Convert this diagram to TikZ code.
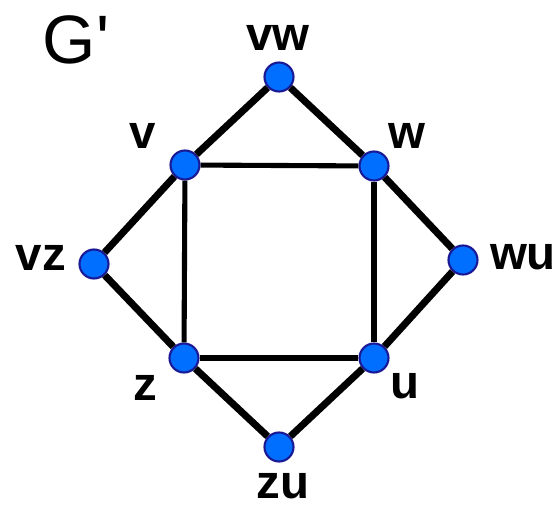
\documentclass[tikz,border=0pt]{standalone}
\usepackage{fontspec}
\setmainfont{Liberation Sans}
\usepackage{xcolor}
\usepackage{tikz}
\usetikzlibrary{positioning,calc}
\definecolor{vertexblue}{RGB}{0,110,255}
\definecolor{vertexrim}{RGB}{25,25,150}

\begin{document}
\begin{tikzpicture}[
    x=0.02cm, y=-0.02cm,
    vertex/.style={circle, draw=vertexrim, fill=vertexblue, line width=1.2pt, minimum size=16.5pt, inner sep=0pt},
    lab/.style={font=\fontsize{27}{30}\selectfont\bfseries, inner sep=0pt},
    outer/.style={line width=4pt, black},
    inner/.style={line width=2.9pt, black}
]
\useasboundingbox (0,0) rectangle (556,507);

% title
\node[font=\fontsize{39}{42}\selectfont, inner sep=0pt] (title) at (76,40) {G\textquotesingle};

% vertices
\node[vertex] (vw) at (279,77) {};
\node[vertex] (v) at (185,165) {};
\node[vertex] (w) at (374,166) {};
\node[vertex] (vz) at (94,264) {};
\node[vertex] (wu) at (463,260) {};
\node[vertex] (z) at (184,358) {};
\node[vertex] (u) at (374,358) {};
\node[vertex] (zu) at (279,447) {};

% labels
\node[lab] (lvw) at (278,38) {vw};
\node[lab] (lv) at (143,136) {v};
\node[lab] (lw) at (407,136) {w};
\node[lab] (lvz) at (41,258) {vz};
\node[lab] (lwu) at (523,257) {wu};
\node[lab] (lz) at (145,388) {z};
\node[lab] (lu) at (405,386) {u};
\node[lab] (lzu) at (283,486) {zu};

% edges of the square
\draw[inner] (v) -- (w);
\draw[inner] (v) -- (z);
\draw[inner] (w) -- (u);
\draw[inner] (z) -- (u);
% edges of the outer diamond
\draw[outer] (vw) -- (v);
\draw[outer] (vw) -- (w);
\draw[outer] (v) -- (vz);
\draw[outer] (vz) -- (z);
\draw[outer] (w) -- (wu);
\draw[outer] (wu) -- (u);
\draw[outer] (z) -- (zu);
\draw[outer] (zu) -- (u);

\end{tikzpicture}
\end{document}
